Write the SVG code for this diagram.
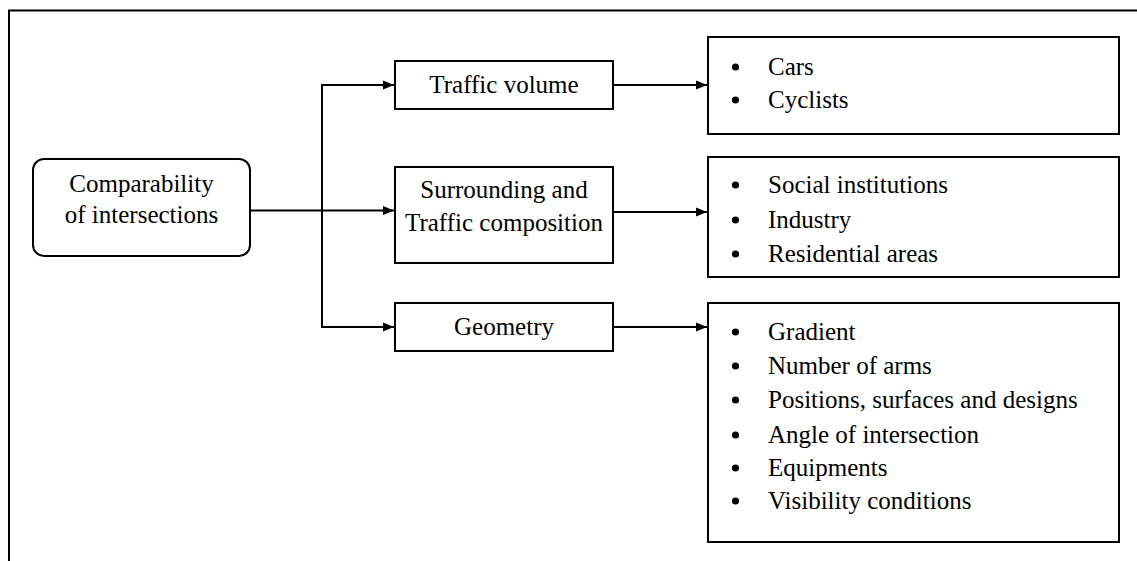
<svg xmlns="http://www.w3.org/2000/svg" width="1137" height="561" viewBox="0 0 1137 561">
<defs>
<marker id="arr" markerWidth="12" markerHeight="10" refX="11" refY="5" orient="auto" markerUnits="userSpaceOnUse">
<path d="M0,0.5 L11,5 L0,9.5 Z" fill="#000"/>
</marker>
<style>
.box{fill:#fff;stroke:#000;stroke-width:2}
.t{font-family:"Liberation Serif","Times New Roman",serif;font-size:25px;fill:#000}
.c{text-anchor:middle}
.ln{fill:none;stroke:#000;stroke-width:2}
.b{fill:#000}
</style>
</defs>
<rect width="1137" height="561" fill="#fff"/>
<g id="frame">
<path d="M9,561 V10.5 H1137" fill="none" stroke="#000" stroke-width="2"/>
</g>
<g id="connectors">
<path class="ln" d="M250,210.5 H394" marker-end="url(#arr)"/>
<path class="ln" d="M394,85 H322 V327 H394" marker-end="url(#arr)"/>
<path class="ln" d="M322,85 H394" marker-end="url(#arr)"/>
<path class="ln" d="M613,85 H707" marker-end="url(#arr)"/>
<path class="ln" d="M613,212 H707" marker-end="url(#arr)"/>
<path class="ln" d="M613,327 H707" marker-end="url(#arr)"/>
</g>
<g id="root">
<rect class="box" x="33" y="159" width="217" height="97" rx="11"/>
<text class="t c" x="141.5" y="192">Comparability</text>
<text class="t c" x="141.5" y="223">of intersections</text>
</g>
<g id="traffic-volume">
<rect class="box" x="395" y="61" width="218" height="48"/>
<text class="t c" x="504" y="93">Traffic volume</text>
</g>
<g id="surrounding">
<rect class="box" x="395" y="167" width="218" height="96"/>
<text class="t c" x="504" y="198">Surrounding and</text>
<text class="t c" x="504" y="231">Traffic composition</text>
</g>
<g id="geometry">
<rect class="box" x="395" y="303" width="218" height="48"/>
<text class="t c" x="504" y="335">Geometry</text>
</g>
<g id="list-volume">
<rect class="box" x="708" y="37" width="411" height="97"/>
<circle class="b" cx="735.5" cy="67" r="3.6"/>
<text class="t" x="768" y="75">Cars</text>
<circle class="b" cx="735.5" cy="100" r="3.6"/>
<text class="t" x="768" y="108">Cyclists</text>
</g>
<g id="list-surrounding">
<rect class="box" x="708" y="157" width="411" height="120"/>
<circle class="b" cx="735.5" cy="185" r="3.6"/>
<text class="t" x="768" y="193">Social institutions</text>
<circle class="b" cx="735.5" cy="220" r="3.6"/>
<text class="t" x="768" y="228">Industry</text>
<circle class="b" cx="735.5" cy="254" r="3.6"/>
<text class="t" x="768" y="262">Residential areas</text>
</g>
<g id="list-geometry">
<rect class="box" x="708" y="303" width="411" height="239"/>
<circle class="b" cx="735.5" cy="332" r="3.6"/>
<text class="t" x="768" y="340">Gradient</text>
<circle class="b" cx="735.5" cy="366" r="3.6"/>
<text class="t" x="768" y="374">Number of arms</text>
<circle class="b" cx="735.5" cy="400" r="3.6"/>
<text class="t" x="768" y="408">Positions, surfaces and designs</text>
<circle class="b" cx="735.5" cy="435" r="3.6"/>
<text class="t" x="768" y="443">Angle of intersection</text>
<circle class="b" cx="735.5" cy="468" r="3.6"/>
<text class="t" x="768" y="476">Equipments</text>
<circle class="b" cx="735.5" cy="501" r="3.6"/>
<text class="t" x="768" y="509">Visibility conditions</text>
</g>
</svg>
